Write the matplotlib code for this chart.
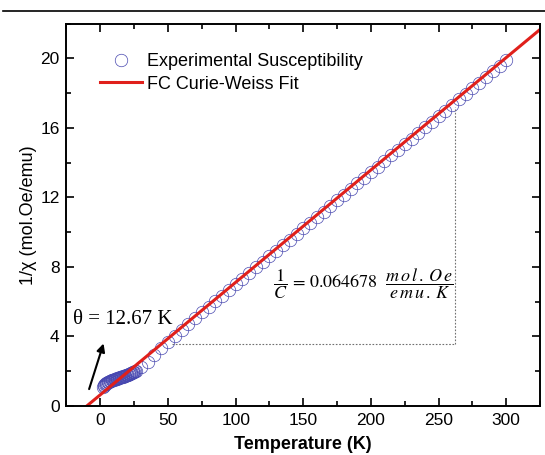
import matplotlib
matplotlib.use("Agg")
import matplotlib.pyplot as plt
from matplotlib.lines import Line2D
from matplotlib.ticker import MultipleLocator

plt.rcParams['font.family'] = ['Liberation Sans', 'DejaVu Sans']
plt.rcParams['mathtext.fontset'] = 'stix'

# Measured inverse susceptibility (low-temperature region, dense sweep)
temp_low = [2.0, 2.5, 3.0, 3.5, 4.0, 4.5, 5.0, 5.5, 6.0, 6.5, 7.0, 7.5, 8.0, 8.5,
            9.0, 9.5, 10.0, 10.5, 11.0, 11.5, 12.0, 12.5, 13.0, 13.5, 14.0, 14.5,
            15.0, 15.5, 16.0, 16.5, 17.0, 17.5, 18.0, 18.5, 19.0, 19.5, 20.0,
            20.5, 21.0, 21.5, 22.0, 22.5, 23.0, 23.5, 24.0, 24.5, 25.0, 25.5, 26.0]
inv_chi_low = [1.12, 1.17, 1.21, 1.25, 1.28, 1.31, 1.34, 1.36, 1.38, 1.40, 1.42,
               1.44, 1.46, 1.47, 1.49, 1.50, 1.52, 1.53, 1.55, 1.56, 1.57, 1.59,
               1.60, 1.61, 1.63, 1.64, 1.65, 1.67, 1.68, 1.69, 1.71, 1.72, 1.74,
               1.75, 1.77, 1.78, 1.80, 1.81, 1.83, 1.85, 1.86, 1.88, 1.90, 1.92,
               1.94, 1.96, 1.98, 2.00, 2.02]

# Measured inverse susceptibility (higher temperatures)
temp_high = [30, 35, 40, 45, 50, 55, 60, 65, 70, 75, 80, 85, 90, 95, 100, 105,
             110, 115, 120, 125, 130, 135, 140, 145, 150, 155, 160, 165, 170,
             175, 180, 185, 190, 195, 200, 205, 210, 215, 220, 225, 230, 235,
             240, 245, 250, 255, 260, 265, 270, 275, 280, 285, 290, 295, 300]
inv_chi_high = [2.25, 2.55, 2.95, 3.35, 3.70, 4.05, 4.40, 4.72, 5.05, 5.38, 5.70,
                6.02, 6.35, 6.67, 7.00, 7.32, 7.64, 7.97, 8.29, 8.61, 8.94, 9.26,
                9.58, 9.90, 10.23, 10.55, 10.87, 11.19, 11.52, 11.84, 12.16,
                12.48, 12.81, 13.13, 13.45, 13.77, 14.10, 14.42, 14.74, 15.06,
                15.39, 15.71, 16.03, 16.35, 16.68, 17.00, 17.32, 17.64, 17.97,
                18.29, 18.61, 18.93, 19.26, 19.58, 19.90]

# Curie-Weiss fit parameters
inv_C = 0.064678
theta = -10.0
fit_T = [-25, 325]

fig = plt.figure(figsize=(5.45, 4.55), dpi=100)
ax = fig.add_axes([0.122, 0.1077, 0.869, 0.8403])

mk = dict(marker='o', ms=9, mfc='none', mec='#4848b0', mew=0.5, ls='none')
ax.plot(temp_low, inv_chi_low, **mk)
ax.plot(temp_high, inv_chi_high, label='Experimental Susceptibility', **mk)
ax.plot(fit_T, [inv_C * (t - theta) for t in fit_T], color='#e0201b', lw=2.2,
        label='FC Curie-Weiss Fit')

# guide lines showing the slope
ax.plot([53, 262.3], [3.54, 3.54], color='#707070', lw=0.8, ls=(0, (1.5, 1.5)))
ax.plot([262.3, 262.3], [3.54, 17.2], color='#707070', lw=0.8, ls=(0, (1.5, 1.5)))

ax.text(127.5, 7.06, r'$\dfrac{1}{C}\,=\,0.064678\ \ \dfrac{m\,o\,l\,.\,O\,e}{e\,m\,u\,.\,K}$',
        fontsize=13, va='center', ha='left')
ax.text(-20, 4.95, 'θ = 12.67 K', family='Liberation Serif', fontsize=15,
        va='center', ha='left')
ax.annotate('', xy=(3.0, 3.75), xytext=(-8.9, 0.82),
            arrowprops=dict(arrowstyle='-|>', color='black', lw=1.5,
                            mutation_scale=12))

ax.set_xlim(-25, 325)
ax.set_ylim(0, 22)
ax.xaxis.set_major_locator(MultipleLocator(50))
ax.xaxis.set_minor_locator(MultipleLocator(25))
ax.yaxis.set_major_locator(MultipleLocator(4))
ax.yaxis.set_minor_locator(MultipleLocator(2))
ax.tick_params(which='both', direction='in', top=True, right=True, width=1.2,
               labelsize=12.5, pad=5)
ax.tick_params(which='major', length=6)
ax.tick_params(which='minor', length=3.5)
for s in ax.spines.values():
    s.set_linewidth(1.4)

ax.set_xlabel('Temperature (K)', fontsize=13, fontweight='bold', labelpad=6)
ax.set_ylabel('1/χ (mol.Oe/emu)', fontsize=13, labelpad=2)

leg = ax.legend(loc='upper left', bbox_to_anchor=(0.0707, 0.923), frameon=False,
                fontsize=13, handlelength=2.3, handletextpad=0.3,
                labelspacing=0.3, borderaxespad=0.0, borderpad=0.0)

fig.add_artist(Line2D([0.006, 1.0], [0.976, 0.976], color='black', lw=1.2,
                      transform=fig.transFigure))

fig.savefig('out.png', dpi=100)
